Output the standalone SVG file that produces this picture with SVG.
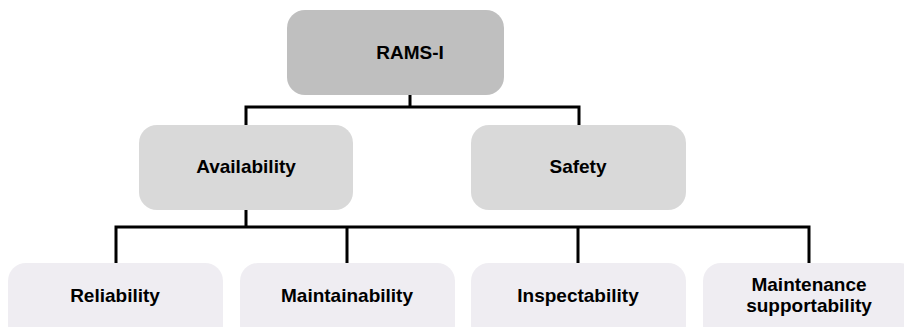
<svg xmlns="http://www.w3.org/2000/svg" width="904" height="327" viewBox="0 0 904 327">
  <style>
    .lbl { font-family: "Liberation Sans", Arial, sans-serif; font-weight: bold; font-size: 19px; fill: #000; text-anchor: middle; }
    .top { fill: #bfbfbf; }
    .mid { fill: #d9d9d9; }
    .leaf { fill: #efedf2; }
    .wire { fill: none; stroke: #000; stroke-width: 3; }
  </style>
  <rect width="904" height="327" fill="#fff"/>

  <g id="connectors">
    <path class="wire" d="M410 95 V107 M246 125 V107 H579 V125"/>
    <path class="wire" d="M246 210 V227 M116 263 V227 H809 V263 M347 227 V263 M578 227 V263"/>
  </g>

  <g id="rams-i">
    <rect class="top" x="287" y="10" width="217" height="85" rx="18"/>
    <text class="lbl" x="410" y="59">RAMS-I</text>
  </g>
  <g id="availability">
    <rect class="mid" x="139" y="125" width="214" height="85" rx="18"/>
    <text class="lbl" x="246" y="173">Availability</text>
  </g>
  <g id="safety">
    <rect class="mid" x="471" y="125" width="215" height="85" rx="18"/>
    <text class="lbl" x="578" y="173">Safety</text>
  </g>
  <g id="reliability">
    <rect class="leaf" x="8" y="263" width="215" height="80" rx="18"/>
    <text class="lbl" x="115" y="302">Reliability</text>
  </g>
  <g id="maintainability">
    <rect class="leaf" x="240" y="263" width="215" height="80" rx="18"/>
    <text class="lbl" x="347" y="302">Maintainability</text>
  </g>
  <g id="inspectability">
    <rect class="leaf" x="471" y="263" width="215" height="80" rx="18"/>
    <text class="lbl" x="578" y="302">Inspectability</text>
  </g>
  <g id="maintenance-supportability">
    <rect class="leaf" x="703" y="263" width="215" height="80" rx="18"/>
    <text class="lbl" x="809" y="291">Maintenance</text>
    <text class="lbl" x="809" y="312">supportability</text>
  </g>
</svg>
